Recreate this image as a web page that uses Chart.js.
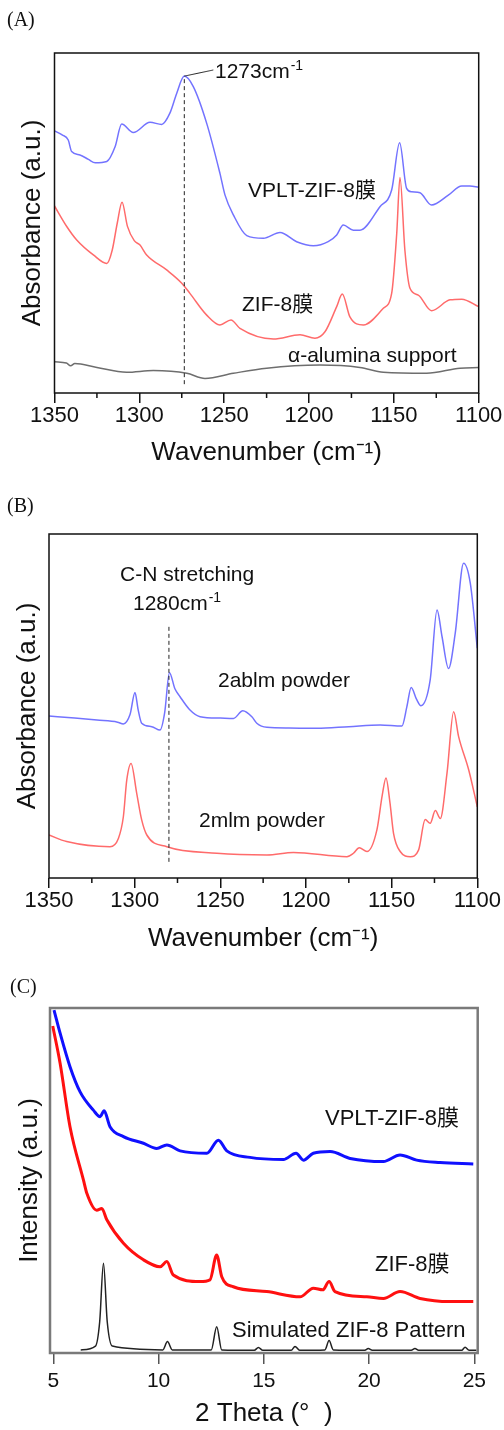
<!DOCTYPE html>
<html lang="zh">
<head>
    <meta charset="UTF-8">
    <title>FTIR / XRD</title>
    <script src="https://cdn.jsdelivr.net/npm/chart.js"></script>
    <style>
        body { margin: 0; background: #fff; }
        .panel { position: absolute; left: 0; width: 504px; }
    </style>
</head>
<body>
<div class="panel" style="top: 0;"><canvas id="chart-a" width="504" height="480"></canvas></div>
<div class="panel" style="top: 480px;"><canvas id="chart-b" width="504" height="480"></canvas></div>
<div class="panel" style="top: 960px;"><canvas id="chart-c" width="504" height="470"></canvas></div>

<script>
    // ---- (A) FTIR of membranes ----
    const aVpltX = [1350, 1345.5, 1341.9, 1339.9, 1335, 1330, 1326, 1319.2, 1314.3, 1310.4, 1303.6, 1293.7, 1286.8, 1282, 1278, 1273.5, 1268.2, 1260.3, 1252.5, 1249.5, 1244.6, 1236.7, 1226.9, 1217.1, 1207.3, 1197.5, 1188.7, 1183.7, 1179.8, 1173.9, 1170, 1158.2, 1151.3, 1146.6, 1142.5, 1139.5, 1134.6, 1127.8, 1117.9, 1110, 1105.2, 1100];
    const aVpltY = [77.1, 75.9, 74.4, 71.0, 70.0, 68.7, 67.7, 68.1, 72.4, 79.1, 76.6, 79.6, 79.0, 82.3, 88.1, 93.2, 90.1, 79.3, 64.6, 58.2, 52.4, 46.3, 45.5, 47.2, 44.5, 43.3, 44.5, 46.5, 49.4, 47.9, 47.9, 54.8, 59.7, 73.6, 60.2, 59.2, 58.9, 55.3, 58.2, 60.9, 60.9, 60.5];

    const aZifX = [1350, 1342.7, 1336.9, 1327.1, 1319.2, 1316, 1313, 1310.2, 1307, 1303, 1299.6, 1295.7, 1283.9, 1275, 1270.2, 1260.3, 1252.5, 1246, 1240.7, 1221, 1205.3, 1196.5, 1190.6, 1183.7, 1180.4, 1175.9, 1168, 1156.2, 1151.3, 1148.3, 1146.4, 1143.5, 1140.5, 1135.6, 1127.8, 1116.9, 1110, 1100];
    const aZifY = [55.0, 48.9, 45.0, 40.6, 38.1, 42.0, 50.0, 56.1, 49.0, 44.8, 43.5, 40.6, 36.2, 32.3, 29.3, 22.9, 20.0, 21.5, 19.0, 15.9, 17.1, 16.1, 18.0, 25.4, 29.1, 22.4, 20.0, 24.9, 29.3, 47.0, 63.4, 42.0, 30.8, 28.8, 24.2, 27.4, 27.6, 25.4];

    const aSupX = [1350, 1343, 1340.5, 1338, 1325, 1307.5, 1291.8, 1272, 1261.3, 1244.6, 1225, 1193.6, 1170, 1156.2, 1130.7, 1111, 1100];
    const aSupY = [9.2, 8.8, 8.0, 8.7, 7.5, 6.1, 6.6, 5.8, 4.3, 5.8, 7.3, 8.2, 7.5, 6.1, 5.8, 7.3, 7.5];

    const aMarkX = [1273.5, 1273.5];
    const aMarkY = [2.6, 93.2];
    const aLeadX = [1273.5, 1256.4];
    const aLeadY = [93.2, 95.0];

    // ---- (B) FTIR of linker powders ----
    const bAbX = [1350, 1335, 1322, 1310, 1306.6, 1302.7, 1299.8, 1298, 1295.9, 1290, 1285.2, 1282.5, 1279.7, 1276.5, 1273.5, 1268, 1261.8, 1250, 1242.3, 1236.9, 1231.6, 1228.7, 1222.8, 1210, 1193.6, 1175, 1156.7, 1144, 1141.1, 1138.6, 1135.5, 1132.9, 1127.5, 1123.5, 1120.6, 1116.8, 1112.9, 1108, 1104.1, 1100];
    const bAbY = [47.1, 46.5, 45.9, 45.3, 44.8, 47.5, 53.9, 49.0, 45.0, 44.0, 43.0, 48.0, 59.7, 55.0, 52.7, 49.0, 46.9, 46.5, 46.4, 48.6, 46.9, 45.0, 43.8, 43.6, 43.5, 44.0, 44.5, 44.2, 49.8, 55.4, 52.0, 50.1, 57.6, 77.9, 70.2, 60.9, 71.1, 91.5, 85.7, 66.8];

    const bMeX = [1350, 1339.7, 1314.4, 1309.5, 1306.6, 1304.6, 1302.1, 1298.8, 1295.9, 1292.9, 1281.2, 1252, 1222.8, 1207.3, 1176.1, 1172.3, 1168.9, 1164.4, 1158.6, 1155.5, 1153.3, 1151, 1148.9, 1145, 1139.1, 1134.3, 1130.4, 1127.5, 1124.5, 1121.6, 1117.7, 1113.8, 1110.9, 1105, 1100];
    const bMeY = [12.5, 10.6, 9.1, 11.5, 17.8, 28.5, 33.3, 24.6, 16.9, 12.5, 9.1, 7.2, 6.7, 7.4, 6.2, 7.2, 8.8, 7.7, 14.0, 24.0, 29.1, 22.0, 13.0, 7.7, 6.2, 8.1, 17.0, 15.9, 19.6, 17.3, 30.4, 48.3, 41.1, 31.4, 20.7];

    const bMarkX = [1280, 1280];
    const bMarkY = [4.7, 73.5];

    // ---- (C) XRD ----
    const cVpltX = [5.03, 5.32, 5.79, 6.27, 6.9, 7.22, 7.41, 7.69, 8.33, 9.28, 9.91, 10.39, 11.02, 12.29, 12.84, 13.24, 14.34, 15.93, 16.53, 16.88, 17.35, 18.15, 19.1, 20.68, 21.47, 22.26, 23.37, 24.95];
    const cVpltY = [99.4, 92.7, 83.0, 75.7, 70.4, 68.5, 70.2, 65.6, 62.7, 60.8, 59.3, 60.3, 58.6, 57.9, 61.7, 58.6, 56.7, 56.1, 57.9, 55.9, 57.9, 58.4, 56.4, 55.5, 57.4, 55.9, 55.2, 54.8];

    const cZifX = [4.97, 5.32, 5.79, 6.43, 6.59, 7.06, 7.3, 7.54, 8.33, 9.28, 10.07, 10.39, 10.7, 11.97, 12.44, 12.76, 13.0, 13.55, 15.14, 16.72, 17.35, 17.8, 18.1, 18.38, 19.89, 20.68, 21.47, 22.42, 23.84, 24.95];
    const cZifY = [94.8, 84.0, 65.6, 50.1, 46.3, 41.4, 41.9, 38.6, 31.8, 27.0, 25.0, 26.5, 22.6, 20.7, 21.2, 28.4, 22.1, 19.2, 17.8, 16.3, 18.8, 18.3, 20.7, 17.8, 16.3, 15.8, 17.8, 15.8, 14.9, 14.9];

    const cSimX = [6.3, 7.0, 7.2, 7.38, 7.56, 7.8, 10.2, 10.42, 10.65, 12.5, 12.76, 13.0, 14.55, 14.74, 14.95, 16.3, 16.48, 16.7, 17.9, 18.1, 18.3, 19.8, 19.96, 20.15, 22.0, 22.18, 22.35, 24.4, 24.56, 24.75, 25.1];
    const cSimY = [0.9, 2.0, 9.0, 26.0, 9.0, 2.0, 0.9, 3.3, 0.9, 0.9, 7.6, 0.9, 0.8, 1.6, 0.8, 0.8, 1.9, 0.8, 0.9, 3.6, 0.9, 0.8, 1.3, 0.8, 0.8, 1.3, 0.8, 0.8, 1.7, 0.8, 0.8];

    const wavenumberTicksMinor = [1325, 1275, 1225, 1175, 1125];

    const SANS = "'Liberation Sans', Arial, 'Noto Sans CJK SC', sans-serif";
    const SERIF = "'Liberation Serif', 'Times New Roman', serif";

    Chart.defaults.font.family = SANS;
    Chart.defaults.color = '#111';

    const pts = (xs, ys) => xs.map((x, i) => ({x: x, y: ys[i]}));

    function line(xs, ys, color, width, dash) {
        return {
            data: pts(xs, ys),
            borderColor: color,
            borderWidth: width,
            borderDash: dash || [],
            pointRadius: 0,
            fill: false,
            cubicInterpolationMode: dash ? 'default' : 'monotone',
            tension: 0
        };
    }

    // frame + minor ticks
    const framePlugin = {
        id: 'frame',
        afterDraw(chart, args, opts) {
            const ctx = chart.ctx;
            const a = chart.chartArea;
            ctx.save();
            ctx.strokeStyle = opts.color;
            ctx.lineWidth = opts.width;
            ctx.strokeRect(a.left, a.top, a.right - a.left, a.bottom - a.top);
            ctx.lineWidth = 1.5;
            (opts.minor || []).forEach(v => {
                const px = chart.scales.x.getPixelForValue(v);
                ctx.beginPath();
                ctx.moveTo(px, a.bottom);
                ctx.lineTo(px, a.bottom + 5);
                ctx.stroke();
            });
            ctx.restore();
        }
    };

    // free text labels
    const textPlugin = {
        id: 'labels',
        afterDraw(chart, args, opts) {
            const ctx = chart.ctx;
            ctx.save();
            ctx.fillStyle = '#111';
            ctx.textBaseline = 'alphabetic';
            ctx.textAlign = 'left';
            (opts.items || []).forEach(t => {
                ctx.font = t.size + 'px ' + (t.serif ? SERIF : SANS);
                ctx.fillText(t.text, t.x, t.y);
                if (t.sup) {
                    const w = ctx.measureText(t.text).width;
                    ctx.font = Math.round(t.size * 0.65) + 'px ' + SANS;
                    ctx.fillText(t.sup, t.x + w + 1, t.y - t.size * 0.4);
                }
            });
            ctx.restore();
        }
    };

    function makeChart(id, p) {
        const canvas = document.getElementById(id);
        const W = canvas.width, H = canvas.height;
        return new Chart(canvas.getContext('2d'), {
            type: 'line',
            data: {datasets: p.datasets},
            options: {
                responsive: false,
                animation: false,
                events: [],
                layout: {padding: {left: 0, top: p.area.top, right: W - p.area.right, bottom: 0}},
                plugins: {
                    legend: {display: false},
                    tooltip: {enabled: false},
                    frame: {color: p.frameColor, width: p.frameWidth, minor: p.minor},
                    labels: {items: p.texts}
                },
                scales: {
                    x: {
                        type: 'linear',
                        min: p.xMin,
                        max: p.xMax,
                        reverse: p.reverse,
                        afterFit: s => { s.height = H - p.area.bottom; },
                        border: {display: false},
                        grid: {drawOnChartArea: false, drawTicks: true, tickLength: p.tickLen, color: p.tickColor, lineWidth: 1.5},
                        ticks: {
                            stepSize: p.step, autoSkip: false, maxRotation: 0, includeBounds: false,
                            padding: p.tickPad, font: {size: p.tickSize}, color: '#111',
                            callback: v => String(v)
                        },
                        title: {display: true, text: p.xTitle, font: {size: 26}, color: '#111', padding: {top: 0, bottom: p.xTitlePad}}
                    },
                    y: {
                        min: 0,
                        max: 100,
                        afterFit: s => { s.width = p.area.left; },
                        border: {display: false},
                        grid: {display: false},
                        ticks: {display: false},
                        title: {display: true, text: p.yTitle, font: {size: 26}, color: '#111', padding: {top: p.yTitlePad, bottom: 0}}
                    }
                }
            },
            plugins: [framePlugin, textPlugin]
        });
    }

    makeChart('chart-a', {
        area: {left: 54.5, right: 478.7, top: 53, bottom: 393},
        xMin: 1100, xMax: 1350, reverse: true, step: 50, minor: wavenumberTicksMinor,
        tickLen: 10, tickColor: '#111', tickPad: 0, tickSize: 22,
        frameColor: '#111', frameWidth: 1.5,
        xTitle: 'Wavenumber (cm⁻¹)', xTitlePad: 12,
        yTitle: 'Absorbance (a.u.)', yTitlePad: 17,
        datasets: [
            line(aMarkX, aMarkY, '#222', 1, [4, 3]),
            line(aLeadX, aLeadY, '#222', 1, [1, 0]),
            line(aVpltX, aVpltY, '#7373ff', 1.5),
            line(aZifX, aZifY, '#ff6b6b', 1.5),
            line(aSupX, aSupY, '#6e6e6e', 1.5)
        ],
        texts: [
            {text: '(A)', x: 7, y: 26, size: 20, serif: true},
            {text: '1273cm', sup: '-1', x: 215, y: 78, size: 21},
            {text: 'VPLT-ZIF-8膜', x: 248, y: 197, size: 21},
            {text: 'ZIF-8膜', x: 242, y: 311, size: 21},
            {text: 'α-alumina support', x: 288, y: 362, size: 21}
        ]
    });

    makeChart('chart-b', {
        area: {left: 49, right: 477.3, top: 54, bottom: 398},
        xMin: 1100, xMax: 1350, reverse: true, step: 50, minor: wavenumberTicksMinor,
        tickLen: 10, tickColor: '#111', tickPad: 0, tickSize: 22,
        frameColor: '#111', frameWidth: 1.5,
        xTitle: 'Wavenumber (cm⁻¹)', xTitlePad: 6,
        yTitle: 'Absorbance (a.u.)', yTitlePad: 12,
        datasets: [
            line(bMarkX, bMarkY, '#222', 1, [4, 3]),
            line(bAbX, bAbY, '#7373ff', 1.5),
            line(bMeX, bMeY, '#ff6b6b', 1.5)
        ],
        texts: [
            {text: '(B)', x: 7, y: 32, size: 20, serif: true},
            {text: 'C-N stretching', x: 120, y: 101, size: 21},
            {text: '1280cm', sup: '-1', x: 133, y: 130, size: 21},
            {text: '2ablm powder', x: 218, y: 207, size: 21},
            {text: '2mlm powder', x: 199, y: 347, size: 21}
        ]
    });

    makeChart('chart-c', {
        area: {left: 50, right: 477.7, top: 48, bottom: 393},
        xMin: 4.84, xMax: 25.16, reverse: false, step: 5, minor: [],
        tickLen: 11, tickColor: '#555', tickPad: 5, tickSize: 21,
        frameColor: '#7a7a7a', frameWidth: 2.5,
        xTitle: '2 Theta (°  )', xTitlePad: 1,
        yTitle: 'Intensity (a.u.)', yTitlePad: 14,
        datasets: [
            line(cVpltX, cVpltY, '#1010ff', 3),
            line(cZifX, cZifY, '#ff1010', 3),
            line(cSimX, cSimY, '#222', 1.5)
        ],
        texts: [
            {text: '(C)', x: 10, y: 33, size: 20, serif: true},
            {text: 'VPLT-ZIF-8膜', x: 325, y: 165, size: 22},
            {text: 'ZIF-8膜', x: 375, y: 311, size: 22},
            {text: 'Simulated ZIF-8 Pattern', x: 232, y: 377, size: 22}
        ]
    });
</script>
</body>
</html>
